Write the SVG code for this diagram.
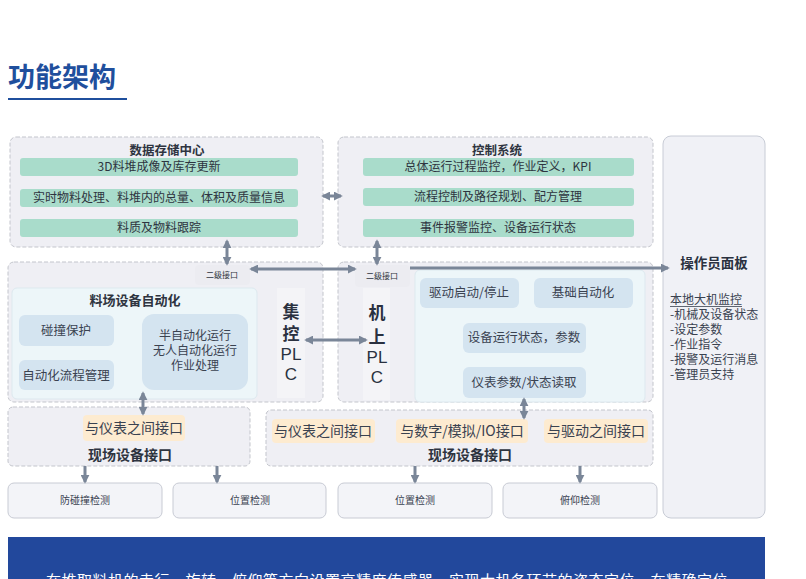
<svg xmlns="http://www.w3.org/2000/svg" width="806" height="579" viewBox="0 0 806 579">
<defs>
<marker id="ah" viewBox="0 0 10 10" refX="8" refY="5" markerWidth="3" markerHeight="3" orient="auto-start-reverse" markerUnits="strokeWidth">
<path d="M0,0 L10,5 L0,10 z" fill="#7a8698"/>
</marker>
<style>
text{font-family:"Noto Sans CJK SC","Noto Sans",sans-serif;fill:#2e3440}
.grp{fill:#efeff4;stroke:#c3c5cc;stroke-width:1;stroke-dasharray:4 2}
.bar{fill:#a9dccb}
.bt{font-size:12px;text-anchor:middle}
.h{font-size:13px;font-weight:bold;text-anchor:middle}
.inner{fill:#edf6f9;stroke:#dde9ef;stroke-width:1}
.blue{fill:#d4e4f0}
.mt{font-size:12.5px;text-anchor:middle;fill:#3a4250}
.mt3{font-size:12px;text-anchor:middle;fill:#3a4250}
.plc{fill:#f4f4f7}
.pt{font-size:17px;text-anchor:middle;font-weight:bold;fill:#2a3140}
.pl{font-size:17px;text-anchor:middle;fill:#2a3140;font-family:"Liberation Sans",sans-serif}
.lvl{fill:#ececf1}
.lt{font-size:8px;text-anchor:middle}
.peach{fill:#fdebd0}
.pe{font-size:14px;text-anchor:middle;fill:#3a4250}
.bot{fill:#f3f4f8;stroke:#c8cbd4;stroke-width:1}
.bx{font-size:10px;text-anchor:middle;fill:#3a4250}
.arr{stroke:#7a8698;stroke-width:3;fill:none}
.ls{font-size:12px;fill:#3a4250}
</style>
</defs>

<g id="title">
<text x="8" y="87" style="font-size:27px;font-weight:bold;fill:#1f4f9d">功能架构</text>
<line x1="8" y1="99" x2="127" y2="99" stroke="#1f4f9d" stroke-width="2"/>
</g>

<g id="data-center">
<rect class="grp" x="10" y="137" width="313" height="110" rx="6"/>
<text class="h" x="167" y="155" style="font-size:12.5px">数据存储中心</text>
<rect class="bar" x="20" y="158" width="278" height="18" rx="3"/>
<text class="bt" x="159" y="171">3D料堆成像及库存更新</text>
<rect class="bar" x="20" y="189" width="278" height="18" rx="3"/>
<text class="bt" x="159" y="202">实时物料处理、料堆内的总量、体积及质量信息</text>
<rect class="bar" x="20" y="219" width="278" height="18" rx="3"/>
<text class="bt" x="159" y="232">料质及物料跟踪</text>
</g>

<g id="control-system">
<rect class="grp" x="338" y="137" width="315" height="110" rx="6"/>
<text class="h" x="497" y="155" style="font-size:12.5px">控制系统</text>
<rect class="bar" x="363" y="158" width="271" height="18" rx="3"/>
<text class="bt" x="498" y="171">总体运行过程监控，作业定义，KPI</text>
<rect class="bar" x="363" y="188" width="271" height="18" rx="3"/>
<text class="bt" x="498" y="201">流程控制及路径规划、配方管理</text>
<rect class="bar" x="363" y="219" width="271" height="18" rx="3"/>
<text class="bt" x="498" y="232">事件报警监控、设备运行状态</text>
</g>

<g id="operator-panel">
<rect x="663" y="136" width="102" height="382" rx="8" fill="#f0f1f6" stroke="#c8ccd6" stroke-width="1"/>
<text x="714" y="268" style="font-size:13.5px;font-weight:bold;text-anchor:middle;fill:#2a3140">操作员面板</text>
<text class="ls" x="670" y="304">本地大机监控</text>
<line x1="670" y1="306.5" x2="742" y2="306.5" stroke="#3a4250" stroke-width="0.8"/>
<text class="ls" x="670" y="319">-机械及设备状态</text>
<text class="ls" x="670" y="334">-设定参数</text>
<text class="ls" x="670" y="349">-作业指令</text>
<text class="ls" x="670" y="364">-报警及运行消息</text>
<text class="ls" x="670" y="379">-管理员支持</text>
</g>

<g id="yard-group">
<rect class="grp" x="8" y="262" width="315" height="140" rx="6"/>
<rect class="lvl" x="195" y="265" width="55" height="20" rx="4"/>
<text class="lt" x="222" y="278">二级接口</text>
<rect class="inner" x="12" y="288" width="245" height="111" rx="5"/>
<text class="h" x="135" y="305">料场设备自动化</text>
<rect class="blue" x="19" y="315" width="95" height="31" rx="6"/>
<text class="mt" x="66" y="335">碰撞保护</text>
<rect class="blue" x="19" y="360" width="95" height="30" rx="6"/>
<text class="mt" x="66" y="380">自动化流程管理</text>
<rect class="blue" x="142" y="314" width="106" height="76" rx="12"/>
<text class="mt3" x="195" y="340">半自动化运行</text>
<text class="mt3" x="195" y="355">无人自动化运行</text>
<text class="mt3" x="195" y="370">作业处理</text>
<rect class="plc" x="277" y="288" width="28" height="110"/>
<text class="pt" x="291" y="318">集</text>
<text class="pt" x="291" y="340">控</text>
<text class="pl" x="291" y="360">PL</text>
<text class="pl" x="291" y="380">C</text>
</g>

<g id="onboard-group">
<rect class="grp" x="338" y="262" width="315" height="140" rx="6"/>
<rect class="lvl" x="355" y="265" width="55" height="22" rx="4"/>
<text class="lt" x="382" y="279">二级接口</text>
<rect class="plc" x="363" y="288" width="27" height="112"/>
<text class="pt" x="377" y="319">机</text>
<text class="pt" x="377" y="343">上</text>
<text class="pl" x="377" y="363">PL</text>
<text class="pl" x="377" y="383">C</text>
<rect class="inner" x="415" y="270" width="230" height="132" rx="5"/>
<rect class="blue" x="420" y="278" width="99" height="30" rx="6"/>
<text class="mt" x="469" y="297">驱动启动/停止</text>
<rect class="blue" x="534" y="278" width="99" height="30" rx="6"/>
<text class="mt" x="583" y="297">基础自动化</text>
<rect class="blue" x="463" y="323" width="123" height="30" rx="6"/>
<text class="mt" x="524" y="342">设备运行状态，参数</text>
<rect class="blue" x="463" y="367" width="123" height="31" rx="6"/>
<text class="mt" x="524" y="387">仪表参数/状态读取</text>
</g>

<g id="field-left">
<rect class="grp" x="8" y="407" width="242" height="59" rx="5"/>
<rect class="peach" x="83" y="415" width="102" height="26" rx="4"/>
<text class="pe" x="134" y="433">与仪表之间接口</text>
<text class="h" x="130" y="460" style="font-size:14px">现场设备接口</text>
</g>

<g id="field-right">
<rect class="grp" x="266" y="410" width="387" height="56" rx="5"/>
<rect class="peach" x="272" y="419" width="103" height="24" rx="4"/>
<text class="pe" x="323" y="436">与仪表之间接口</text>
<rect class="peach" x="396" y="419" width="132" height="24" rx="4"/>
<text class="pe" x="462" y="436">与数字/模拟/IO接口</text>
<rect class="peach" x="544" y="419" width="104" height="24" rx="4"/>
<text class="pe" x="596" y="436">与驱动之间接口</text>
<text class="h" x="470" y="460" style="font-size:14px">现场设备接口</text>
</g>

<g id="det-1"><rect class="bot" x="8" y="483" width="154" height="35" rx="6"/><text class="bx" x="85" y="504">防碰撞检测</text></g>
<g id="det-2"><rect class="bot" x="173" y="483" width="153" height="35" rx="6"/><text class="bx" x="250" y="504">位置检测</text></g>
<g id="det-3"><rect class="bot" x="338" y="483" width="154" height="35" rx="6"/><text class="bx" x="415" y="504">位置检测</text></g>
<g id="det-4"><rect class="bot" x="503" y="483" width="154" height="35" rx="6"/><text class="bx" x="580" y="504">俯仰检测</text></g>

<g id="connectors">
<line class="arr" x1="323" y1="196" x2="341" y2="196" marker-start="url(#ah)" marker-end="url(#ah)"/>
<line class="arr" x1="227" y1="241" x2="227" y2="264" marker-start="url(#ah)" marker-end="url(#ah)"/>
<line class="arr" x1="377" y1="241" x2="377" y2="264" marker-start="url(#ah)" marker-end="url(#ah)"/>
<line class="arr" x1="251" y1="269" x2="355" y2="269" marker-start="url(#ah)" marker-end="url(#ah)"/>
<line class="arr" x1="410" y1="268" x2="668" y2="268" marker-end="url(#ah)"/>
<line class="arr" x1="306" y1="340" x2="366" y2="340" marker-start="url(#ah)" marker-end="url(#ah)"/>
<line class="arr" x1="143" y1="393" x2="143" y2="414" marker-start="url(#ah)" marker-end="url(#ah)"/>
<line class="arr" x1="524" y1="399" x2="524" y2="418" marker-start="url(#ah)" marker-end="url(#ah)"/>
<line class="arr" x1="85" y1="466" x2="85" y2="482" marker-end="url(#ah)"/>
<line class="arr" x1="217" y1="466" x2="217" y2="482" marker-end="url(#ah)"/>
<line class="arr" x1="415" y1="466" x2="415" y2="482" marker-end="url(#ah)"/>
<line class="arr" x1="580" y1="466" x2="580" y2="482" marker-end="url(#ah)"/>
</g>

<g id="banner">
<rect x="8" y="537" width="757" height="50" fill="#22489c"/>
<text x="46" y="586" style="font-size:15px;fill:#ffffff;letter-spacing:0.5px">在堆取料机的走行、旋转、俯仰等方向设置高精度传感器，实现大机各环节的姿态定位，在精确定位</text>
</g>
</svg>
